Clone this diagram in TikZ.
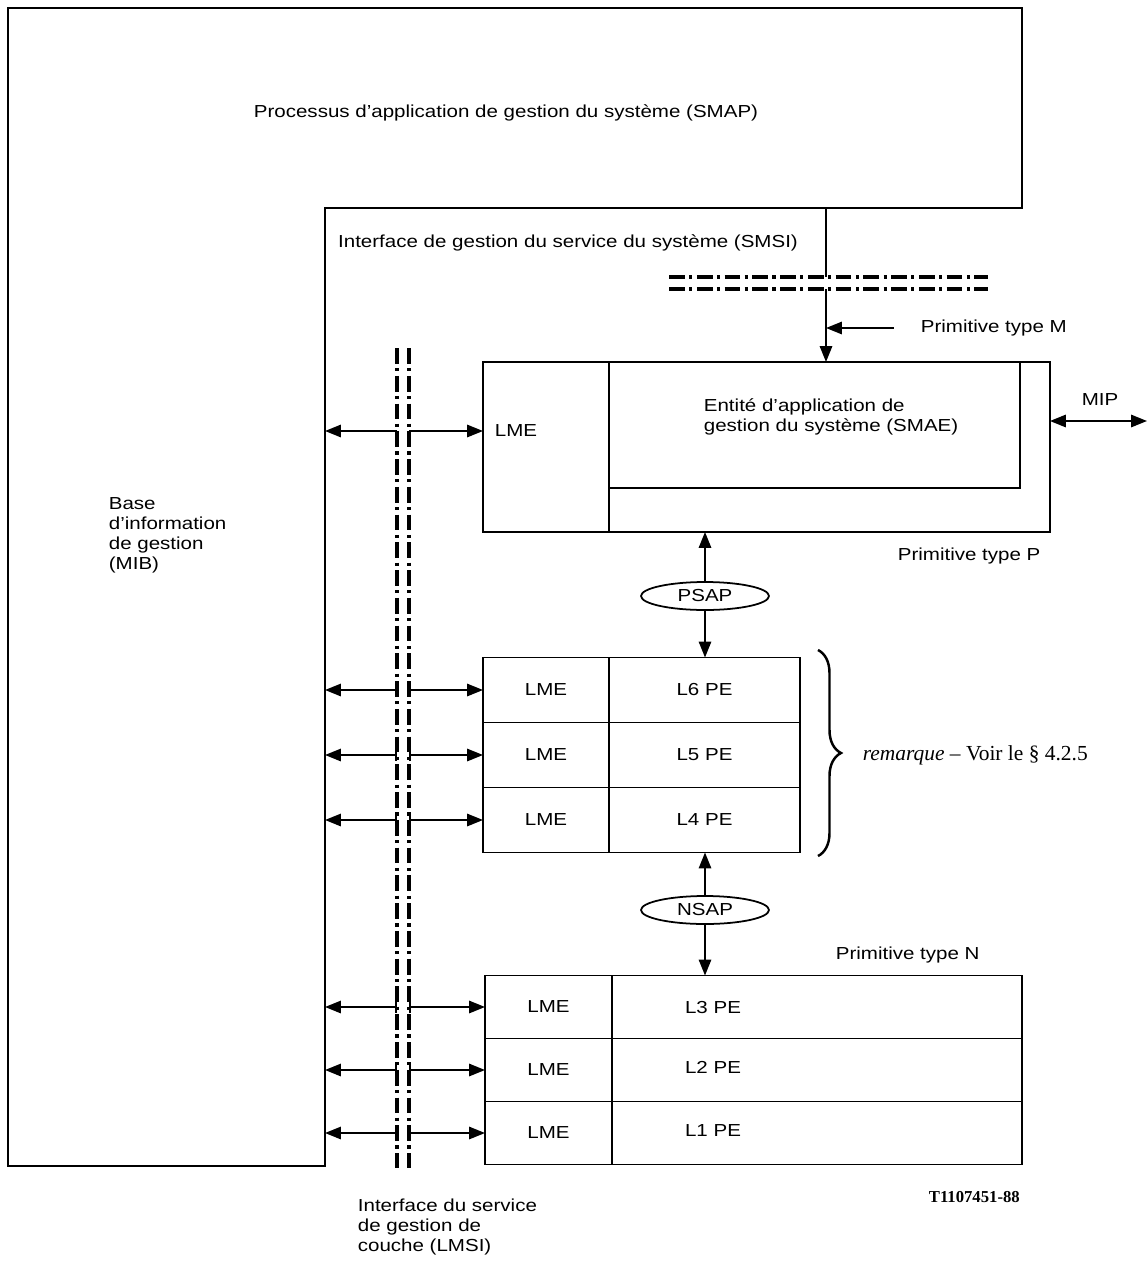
\documentclass[tikz,border=0pt]{standalone}
\usepackage{fontspec}
\setmainfont{Liberation Sans}[FakeStretch=1.18]
\newfontfamily\remfont{Liberation Serif}
\usepackage{tikz}
\usetikzlibrary{arrows.meta, shapes.geometric, decorations.pathreplacing}

\begin{document}
\begin{tikzpicture}[
    x=0.02cm, y=-0.02cm,
    line width=1pt,
    >={Triangle[length=9pt, width=7pt]},
    font=\fontsize{9.9}{11.4}\selectfont,
    cell/.style={draw, rectangle, inner sep=0pt, outer sep=0pt},
    lmecell/.style={cell, minimum width=2.52cm, minimum height=1.3cm},
    pecell/.style={cell, minimum width=3.82cm, minimum height=1.3cm},
    lowlme/.style={cell, minimum width=2.54cm, minimum height=1.26cm},
    lowpe/.style={cell, minimum width=8.2cm, minimum height=1.26cm},
    sap/.style={draw, ellipse, fill=white, inner sep=0pt, minimum width=2.56cm, minimum height=0.56cm},
    txt/.style={inner sep=0pt, align=left},
    dashdot/.style={line width=1.8pt, dash pattern=on 9pt off 2.5pt on 1.8pt off 2.5pt},
    tolme/.style={{Bar[width=7pt]}->},
    tomib/.style={<-{Bar[width=7pt]}}
]
    \useasboundingbox (0,0) rectangle (1147,1261);

    % Processus d'application (SMAP) et base d'information (MIB)
    \draw (8,8) -- (1022,8) -- (1022,208) -- (325,208) -- (325,1166) -- (8,1166) -- cycle;
    \coordinate (mib) at (325,0);
    \coordinate (smapout) at (826,208);
    \node[txt] (smap) at (506,113) {Processus d'application de gestion du système (SMAP)};
    \node[txt, anchor=west] (mibtxt) at (108,535) {Base\\d'information\\de gestion\\(MIB)};

    % Interface SMSI
    \node[txt] (smsi) at (568,243) {Interface de gestion du service du système (SMSI)};
    \coordinate (smsiA) at (669,277);
    \coordinate (smsiA2) at (988,277);
    \coordinate (smsiB) at (669,289);
    \coordinate (smsiB2) at (988,289);
    \draw[dashdot] (smsiA) -- (smsiA2);
    \draw[dashdot] (smsiB) -- (smsiB2);

    % Interface LMSI
    \coordinate (lmsiL) at (397,348);
    \coordinate (lmsiLb) at (397,1168);
    \coordinate (lmsiR) at (409,348);
    \coordinate (lmsiRb) at (409,1168);
    \draw[dashdot] (lmsiL) -- (lmsiLb);
    \draw[dashdot] (lmsiR) -- (lmsiRb);
    \node[txt, anchor=west] (lmsitxt) at (357,1227) {Interface du service\\de gestion de\\couche (LMSI)};

    % SMAE
    \node[cell, minimum width=11.34cm, minimum height=3.4cm] (smaebox) at (766.5,447) {};
    \node[cell, minimum width=2.52cm, minimum height=3.4cm] (lme7) at (546,447) {};
    \node[cell, minimum width=8.22cm, minimum height=2.52cm] (smae) at (814.5,425) {};
    \node[txt] (lmetxt7) at (516,431) {LME};
    \node[txt, anchor=west] (smaetxt) at (703,417) {Entité d'application de\\gestion du système (SMAE)};

    \draw (smapout) -- (smapout |- smsiA);
    \draw[->] (smapout |- smsiB) -- (smapout |- smae.north);
    \node[txt, anchor=west] (primM) at (920,328) {Primitive type M};
    \draw[->] ([xshift=-15]primM.west) -- (smapout |- primM.west);

    \coordinate (mipend) at (1147,421);
    \draw[<->] (smaebox.east |- mipend) -- (mipend);
    \node[txt] (mip) at (1100,400) {MIP};

    \draw[<-] (mib |- lmetxt7) -- (lmsiL |- lmetxt7);
    \draw[->] (lmsiR |- lmetxt7) -- (lme7.west |- lmetxt7);

    \node[txt, anchor=west] (primP) at (897,556) {Primitive type P};

    % PSAP
    \node[sap] (psap) at (705,596) {PSAP};

    % Couches 6, 5, 4
    \node[lmecell] (lme6) at (546,690) {LME};
    \node[pecell] (pe6) at (704.5,690) {L6 PE};
    \node[lmecell] (lme5) at (546,755) {LME};
    \node[pecell] (pe5) at (704.5,755) {L5 PE};
    \node[lmecell] (lme4) at (546,820) {LME};
    \node[pecell] (pe4) at (704.5,820) {L4 PE};

    \draw[->] (psap) -- (psap |- smaebox.south);
    \draw[->] (psap) -- (psap |- pe6.north);

    \draw[tomib] (mib |- lme6.west) -- (lmsiL |- lme6.west);
    \draw[tolme] (lmsiR |- lme6.west) -- (lme6.west);
    \draw[tomib] (mib |- lme5.west) -- (lmsiL |- lme5.west);
    \draw[tolme] (lmsiR |- lme5.west) -- (lme5.west);
    \draw[tomib] (mib |- lme4.west) -- (lmsiL |- lme4.west);
    \draw[tolme] (lmsiR |- lme4.west) -- (lme4.west);

    % Remarque
    \draw[line width=1.4pt, decorate, decoration={brace, amplitude=0.46cm}] (818,650) -- (818,856);
    \node[txt, anchor=west, font=\remfont\fontsize{12.2}{14}\selectfont] (rem) at (862,755) {\textit{remarque} – Voir le § 4.2.5};

    % NSAP
    \node[sap] (nsap) at (705,910) {NSAP};
    \node[txt, anchor=west] (primN) at (835,955) {Primitive type N};

    % Couches 3, 2, 1
    \node[lowlme] (lme3) at (548.5,1007) {LME};
    \node[lowpe] (pe3) at (817,1007) {};
    \node[lowlme] (lme2) at (548.5,1070) {LME};
    \node[lowpe] (pe2) at (817,1070) {};
    \node[lowlme] (lme1) at (548.5,1133) {LME};
    \node[lowpe] (pe1) at (817,1133) {};
    \node[txt] (pe3txt) at (713,1007) {L3 PE};
    \node[txt] (pe2txt) at (713,1067) {L2 PE};
    \node[txt] (pe1txt) at (713,1131) {L1 PE};

    \draw[->] (nsap) -- (nsap |- pe4.south);
    \draw[->] (nsap) -- (nsap |- pe3.north);

    \draw[tomib] (mib |- lme3.west) -- (lmsiL |- lme3.west);
    \draw[tolme] (lmsiR |- lme3.west) -- (lme3.west);
    \draw[tomib] (mib |- lme2.west) -- (lmsiL |- lme2.west);
    \draw[tolme] (lmsiR |- lme2.west) -- (lme2.west);
    \draw[tomib] (mib |- lme1.west) -- (lmsiL |- lme1.west);
    \draw[tolme] (lmsiR |- lme1.west) -- (lme1.west);

    \node[txt, anchor=west, font=\remfont\bfseries\fontsize{9.5}{11}\selectfont] (ref) at (928,1197) {T1107451-88};

\end{tikzpicture}
\end{document}
